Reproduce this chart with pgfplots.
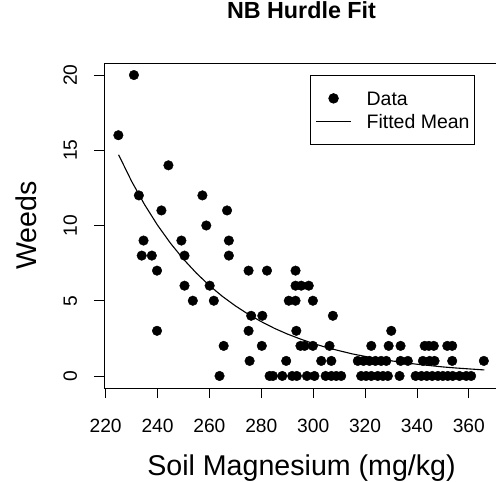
\documentclass[border=0pt]{standalone}
\usepackage{fontspec}
\setmainfont{Liberation Sans}
\usepackage{pgfplots}
\pgfplotsset{compat=1.18}
\pgfplotsset{
  dotlegend/.style={legend image code/.code={\draw[mark repeat=2,mark phase=2,##1] plot coordinates {(0pt,0pt) (17.5pt,0pt) (35pt,0pt)};}},
  linelegend/.style={legend image code/.code={\draw[##1] (0pt,0pt) -- (35pt,0pt);}},
}
\begin{document}
\begin{tikzpicture}
\begin{axis}[
  scale only axis, width=395pt, height=325pt,
  xmin=219.36, xmax=371.64, ymin=-0.8, ymax=20.8,
  xtick={220,240,...,360}, ytick={0,5,10,15,20},
  xtick pos=lower, ytick pos=left,
  tick align=outside, major tick length=10pt,
  tick style={black, line width=0.8pt},
  axis line style={line width=0.8pt},
  /pgf/number format/assume math mode=true,
  ticklabel style={font=\fontsize{19.2pt}{23pt}\selectfont},
  xticklabel style={anchor=base},
  yticklabel style={rotate=90, anchor=base},
  xticklabel shift=34pt,
  yticklabel shift=17pt,
  title={NB Hurdle Fit},
  title style={font=\bfseries\fontsize{23.3pt}{28pt}\selectfont, at={(axis description cs:0.5,1)}, anchor=base, yshift=38pt},
  xlabel={Soil Magnesium (mg/kg)},
  ylabel={Weeds},
  xlabel style={font=\fontsize{28.6pt}{34pt}\selectfont, at={(axis description cs:0.5,-0.2677)}, anchor=base},
  ylabel style={font=\fontsize{28.6pt}{34pt}\selectfont, at={(axis description cs:-0.1704,0.5)}, rotate=0, anchor=base},
  legend style={at={(rel axis cs:0.9392,0.9631)}, anchor=north east, draw=black, line width=0.8pt,
    font=\fontsize{19.5pt}{23pt}\selectfont, inner xsep=5pt, inner ysep=16pt, row sep=9.5pt, column sep=15pt,
    nodes={inner sep=0pt, text height=14pt, text depth=0pt}},
  legend cell align=left,
]
\addplot[only marks, mark=*, mark size=4.8pt, black, dotlegend]
coordinates {
(230.9,20) (224.9,16) (244.2,14) (232.8,12) (257.3,12) (241.5,11) (266.8,11) (258.8,10)
(234.6,9) (249.2,9) (267.5,9)
(233.9,8) (237.8,8) (250.4,8) (267.5,8)
(239.8,7) (275.1,7) (282.2,7) (293.2,7)
(250.4,6) (260.1,6) (293.2,6) (295.4,6) (298.3,6)
(253.6,5) (261.7,5) (290.6,5) (293.2,5) (299.9,5)
(276.1,4) (280.4,4) (307.6,4)
(239.8,3) (275.1,3) (293.5,3) (330.1,3)
(265.5,2) (280.2,2) (295.1,2) (296.7,2) (299.9,2) (306.3,2) (322.4,2) (329.1,2) (333.7,2) (343.0,2) (344.6,2) (346.5,2) (351.7,2) (353.6,2)
(275.5,1) (289.6,1) (303.1,1) (307.0,1) (317.2,1) (319.4,1) (321.7,1) (324.0,1) (326.2,1) (328.2,1) (333.7,1) (336.5,1) (342.3,1) (344.9,1) (346.8,1) (353.6,1) (365.8,1)
(263.9,0) (283.2,0) (284.5,0) (288.1,0) (291.9,0) (293.7,0) (297.6,0) (300.5,0) (304.8,0) (307.0,0) (308.9,0) (310.8,0)
(318.5,0) (320.4,0) (322.4,0) (324.9,0) (326.9,0) (328.8,0) (333.3,0) (339.5,0) (341.7,0) (343.8,0) (345.9,0) (348.1,0)
(350.0,0) (351.9,0) (353.8,0) (356.4,0) (359.0,0) (360.9,0)
};
\addlegendentry{Data}
\addplot[black, line width=1.1pt, no marks, linelegend]
coordinates {
(225,14.70) (230,12.94) (235,11.39) (240,10.02) (245,8.82) (250,7.76) (255,6.83) (260,6.01)
(265,5.29) (270,4.66) (275,4.10) (280,3.61) (285,3.17) (290,2.79) (295,2.46) (300,2.16)
(305,1.90) (310,1.68) (315,1.47) (320,1.30) (325,1.14) (330,1.01) (335,0.88) (340,0.78)
(345,0.69) (350,0.60) (355,0.53) (360,0.47) (366,0.40)
};
\addlegendentry{Fitted Mean\hspace{4pt}}
\end{axis}
\pgfresetboundingbox
\useasboundingbox (-104pt,-94pt) rectangle (392pt,388pt);
\end{tikzpicture}
\end{document}
